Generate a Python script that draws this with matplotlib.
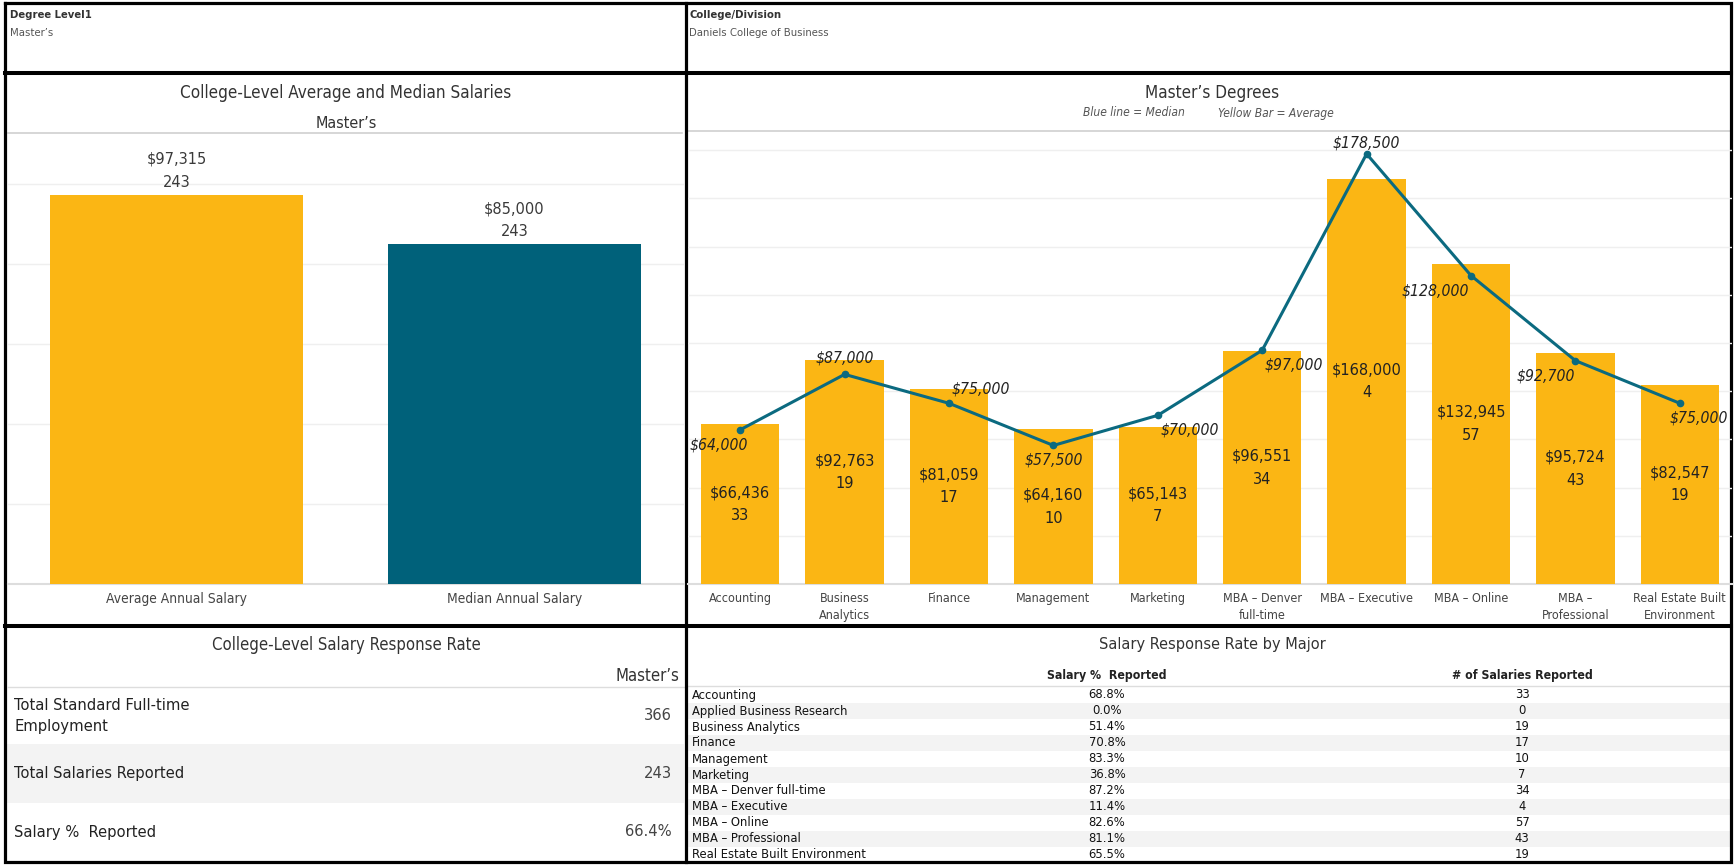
import matplotlib
matplotlib.use('Agg')
import matplotlib.pyplot as plt
from matplotlib import font_manager as fm
from matplotlib.patches import Rectangle

W, H = 1734, 865

# ---------------- data ----------------
degree_level = "Master’s"
college = "Daniels College of Business"

overall_labels = ["Average Annual Salary", "Median Annual Salary"]
overall_values = [97315, 85000]
overall_counts = [243, 243]

majors = ["Accounting", "Business Analytics", "Finance", "Management", "Marketing",
          "MBA – Denver full-time", "MBA – Executive", "MBA – Online",
          "MBA – Professional", "Real Estate Built Environment"]
major_tick_labels = ["Accounting", "Business\nAnalytics", "Finance", "Management", "Marketing",
                     "MBA – Denver\nfull-time", "MBA – Executive", "MBA – Online",
                     "MBA –\nProfessional", "Real Estate Built\nEnvironment"]
avg_salary = [66436, 92763, 81059, 64160, 65143, 96551, 168000, 132945, 95724, 82547]
median_salary = [64000, 87000, 75000, 57500, 70000, 97000, 178500, 128000, 92700, 75000]
salary_counts = [33, 19, 17, 10, 7, 34, 4, 57, 43, 19]

resp_rows = ["Total Standard Full-time\nEmployment", "Total Salaries Reported", "Salary %  Reported"]
resp_values = ["366", "243", "66.4%"]

table_majors = ["Accounting", "Applied Business Research", "Business Analytics", "Finance",
                "Management", "Marketing", "MBA – Denver full-time", "MBA – Executive",
                "MBA – Online", "MBA – Professional", "Real Estate Built Environment"]
table_pct = [68.8, 0.0, 51.4, 70.8, 83.3, 36.8, 87.2, 11.4, 82.6, 81.1, 65.5]
table_counts = [33, 0, 19, 17, 10, 7, 34, 4, 57, 43, 19]

# label offsets (pixels) for the median labels
med_offsets = [(-21, -15), (0, 16), (32, 14), (0, -15), (32, -15), (32, -15),
               (0, 11), (-36, -15), (-30, -15), (19, -15)]

# ---------------- fonts ----------------
ttf = fm.fontManager.ttflist
names = {f.name for f in ttf}
FONT, STRETCH, SCALE = 'Liberation Sans', 'normal', 0.85
if 'Liberation Sans Narrow' in names:
    FONT, SCALE = 'Liberation Sans Narrow', 1.0
else:
    for fam in ['DejaVu Sans', 'Noto Sans', 'Open Sans', 'Roboto']:
        if any(f.name == fam and f.stretch in ('condensed', 'semi-condensed') for f in ttf):
            FONT, STRETCH, SCALE = fam, 'condensed', 0.9
            break
plt.rcParams['font.family'] = [FONT, 'DejaVu Sans']
plt.rcParams['font.stretch'] = STRETCH


def fs(x):
    return x * SCALE


YEL = '#FBB614'
TEAL = '#00617A'
LINE = '#0B6A80'
GRID = '#EFEFEF'
TXT = '#333333'

fig = plt.figure(figsize=(W / 100, H / 100), dpi=100)
bg = fig.add_axes([0, 0, 1, 1])
bg.set_xlim(0, W)
bg.set_ylim(H, 0)
bg.axis('off')


def rect(x0, y0, x1, y1):
    return [x0 / W, 1 - y1 / H, (x1 - x0) / W, (y1 - y0) / H]


# ---------------- headers ----------------
bg.text(10, 15, "Degree Level1", fontsize=fs(9), fontweight='bold', color=TXT, va='center')
bg.text(10, 33, degree_level, fontsize=fs(9), color='#555555', va='center')
bg.text(689, 15, "College/Division", fontsize=fs(9), fontweight='bold', color=TXT, va='center')
bg.text(689, 33, college, fontsize=fs(9), color='#555555', va='center')

# ---------------- left chart ----------------
bg.text(346, 93, "College-Level Average and Median Salaries", fontsize=fs(13.6), color=TXT,
        ha='center', va='center')
bg.text(346, 123, degree_level, fontsize=fs(12.8), color=TXT, ha='center', va='center')
bg.plot([8, 682], [133, 133], color='#D0D0D0', lw=1.2)

ax1 = fig.add_axes(rect(7.5, 133, 683.5, 584))
x1 = list(range(len(overall_labels)))
ax1.bar(x1, overall_values, width=0.75, color=[YEL, TEAL], zorder=3)
ax1.set_xlim(-0.5, len(overall_labels) - 0.5)
ax1.set_ylim(0, 112750)
ax1.set_yticks([20000, 40000, 60000, 80000, 100000])
ax1.yaxis.grid(True, color=GRID, lw=1)
ax1.set_axisbelow(True)
ax1.set_yticklabels([])
ax1.tick_params(axis='y', length=0)
ax1.set_xticks(x1)
ax1.set_xticklabels(overall_labels, fontsize=fs(11), color='#444444')
ax1.tick_params(axis='x', length=0, pad=6)
for s in ['top', 'left', 'right']:
    ax1.spines[s].set_visible(False)
ax1.spines['bottom'].set_color('#DDDDDD')
ax1.spines['bottom'].set_linewidth(1.5)
ax1.patch.set_alpha(0)
for xi, v, c in zip(x1, overall_values, overall_counts):
    ax1.annotate(f"${v:,.0f}\n{c}", (xi, v), xytext=(0, 5), textcoords='offset pixels',
                 ha='center', va='bottom', fontsize=fs(13), color='#3A3A3A', linespacing=1.65)

# ---------------- right chart ----------------
bg.text(1212, 93, "Master’s Degrees", fontsize=fs(13.6), color=TXT, ha='center', va='center')
bg.text(1134, 113, "Blue line = Median", fontsize=fs(9.6), color='#555555', style='italic',
        ha='center', va='center')
bg.text(1276, 113, "Yellow Bar = Average", fontsize=fs(9.6), color='#555555', style='italic',
        ha='center', va='center')
bg.plot([688, 1731], [131, 131], color='#D0D0D0', lw=1.2)

ax2 = fig.add_axes(rect(688, 131, 1732, 584))
x2 = list(range(len(majors)))
ax2.bar(x2, avg_salary, width=0.75, color=YEL, zorder=3)
ax2.plot(x2, median_salary, color=LINE, lw=2.2, marker='o', markersize=4.5, zorder=4)
ax2.set_xlim(-0.5, len(majors) - 0.5)
ax2.set_ylim(0, 188000)
ax2.set_yticks(range(20000, 180001, 20000))
ax2.yaxis.grid(True, color=GRID, lw=1)
ax2.set_axisbelow(True)
ax2.set_yticklabels([])
ax2.tick_params(axis='y', length=0)
ax2.set_xticks(x2)
ax2.set_xticklabels(major_tick_labels, fontsize=fs(10), color='#444444', linespacing=1.4, va='top')
ax2.tick_params(axis='x', length=0, pad=6)
for s in ['top', 'left', 'right']:
    ax2.spines[s].set_visible(False)
ax2.spines['bottom'].set_color('#DDDDDD')
ax2.spines['bottom'].set_linewidth(1.5)
ax2.patch.set_alpha(0)
for xi, v, c in zip(x2, avg_salary, salary_counts):
    ax2.text(xi, v / 2, f"${v:,.0f}\n{c}", ha='center', va='center', fontsize=fs(13),
             color='#222222', linespacing=1.65, zorder=5)
for xi, m, (dx, dy) in zip(x2, median_salary, med_offsets):
    ax2.annotate(f"${m:,.0f}", (xi, m), xytext=(dx, dy), textcoords='offset pixels',
                 ha='center', va='center', fontsize=fs(12.5), style='italic', color='#222222',
                 zorder=6)

# ---------------- bottom-left table ----------------
bg.text(346, 645, "College-Level Salary Response Rate", fontsize=fs(13.3), color=TXT,
        ha='center', va='center')
bg.text(679, 676, degree_level, fontsize=fs(13.3), color=TXT, ha='right', va='center')
bg.plot([8, 684], [687, 687], color='#DDDDDD', lw=1)
row_edges = [687, 744, 803, 861]
for i, (lab, val) in enumerate(zip(resp_rows, resp_values)):
    y0, y1 = row_edges[i], row_edges[i + 1]
    if i % 2 == 1:
        bg.add_patch(Rectangle((7, y0), 677, y1 - y0, color='#F3F3F3', lw=0, zorder=0))
    yc = (y0 + y1) / 2
    bg.text(14, yc, lab, fontsize=fs(13.1), color='#222222', va='center', linespacing=1.5)
    bg.text(672, yc, val, fontsize=fs(13.1), color='#444444', va='center', ha='right')

# ---------------- bottom-right table ----------------
bg.text(1212, 645, "Salary Response Rate by Major", fontsize=fs(13), color=TXT,
        ha='center', va='center')
bg.text(1107, 676, "Salary %  Reported", fontsize=fs(9.8), fontweight='bold', color='#222222',
        ha='center', va='center')
bg.text(1522, 676, "# of Salaries Reported", fontsize=fs(9.8), fontweight='bold', color='#222222',
        ha='center', va='center')
bg.plot([688, 1730], [686, 686], color='#DDDDDD', lw=1)
rh = 16
top = 687
for i, (m, p, c) in enumerate(zip(table_majors, table_pct, table_counts)):
    y0 = top + i * rh
    if i % 2 == 1:
        bg.add_patch(Rectangle((688, y0), 1042, rh, color='#F3F3F3', lw=0, zorder=0))
    yc = y0 + rh / 2
    bg.text(692, yc, m, fontsize=fs(10.3), color='#111111', va='center')
    bg.text(1107, yc, f"{p:.1f}%", fontsize=fs(10.3), color='#111111', va='center', ha='center')
    bg.text(1522, yc, f"{c}", fontsize=fs(10.3), color='#111111', va='center', ha='center')

# ---------------- frame lines ----------------
K = 'black'
LW = 2.3
bg.plot([5, 1731, 1731, 5, 5], [3, 3, 862, 862, 3], color=K, lw=LW, solid_joinstyle='miter')
bg.plot([5, 1731], [73, 73], color=K, lw=LW + 0.6)
bg.plot([5, 1731], [626, 626], color=K, lw=LW + 0.6)
bg.plot([686, 686], [3, 862], color=K, lw=LW)

fig.savefig('out.png', dpi=100)
